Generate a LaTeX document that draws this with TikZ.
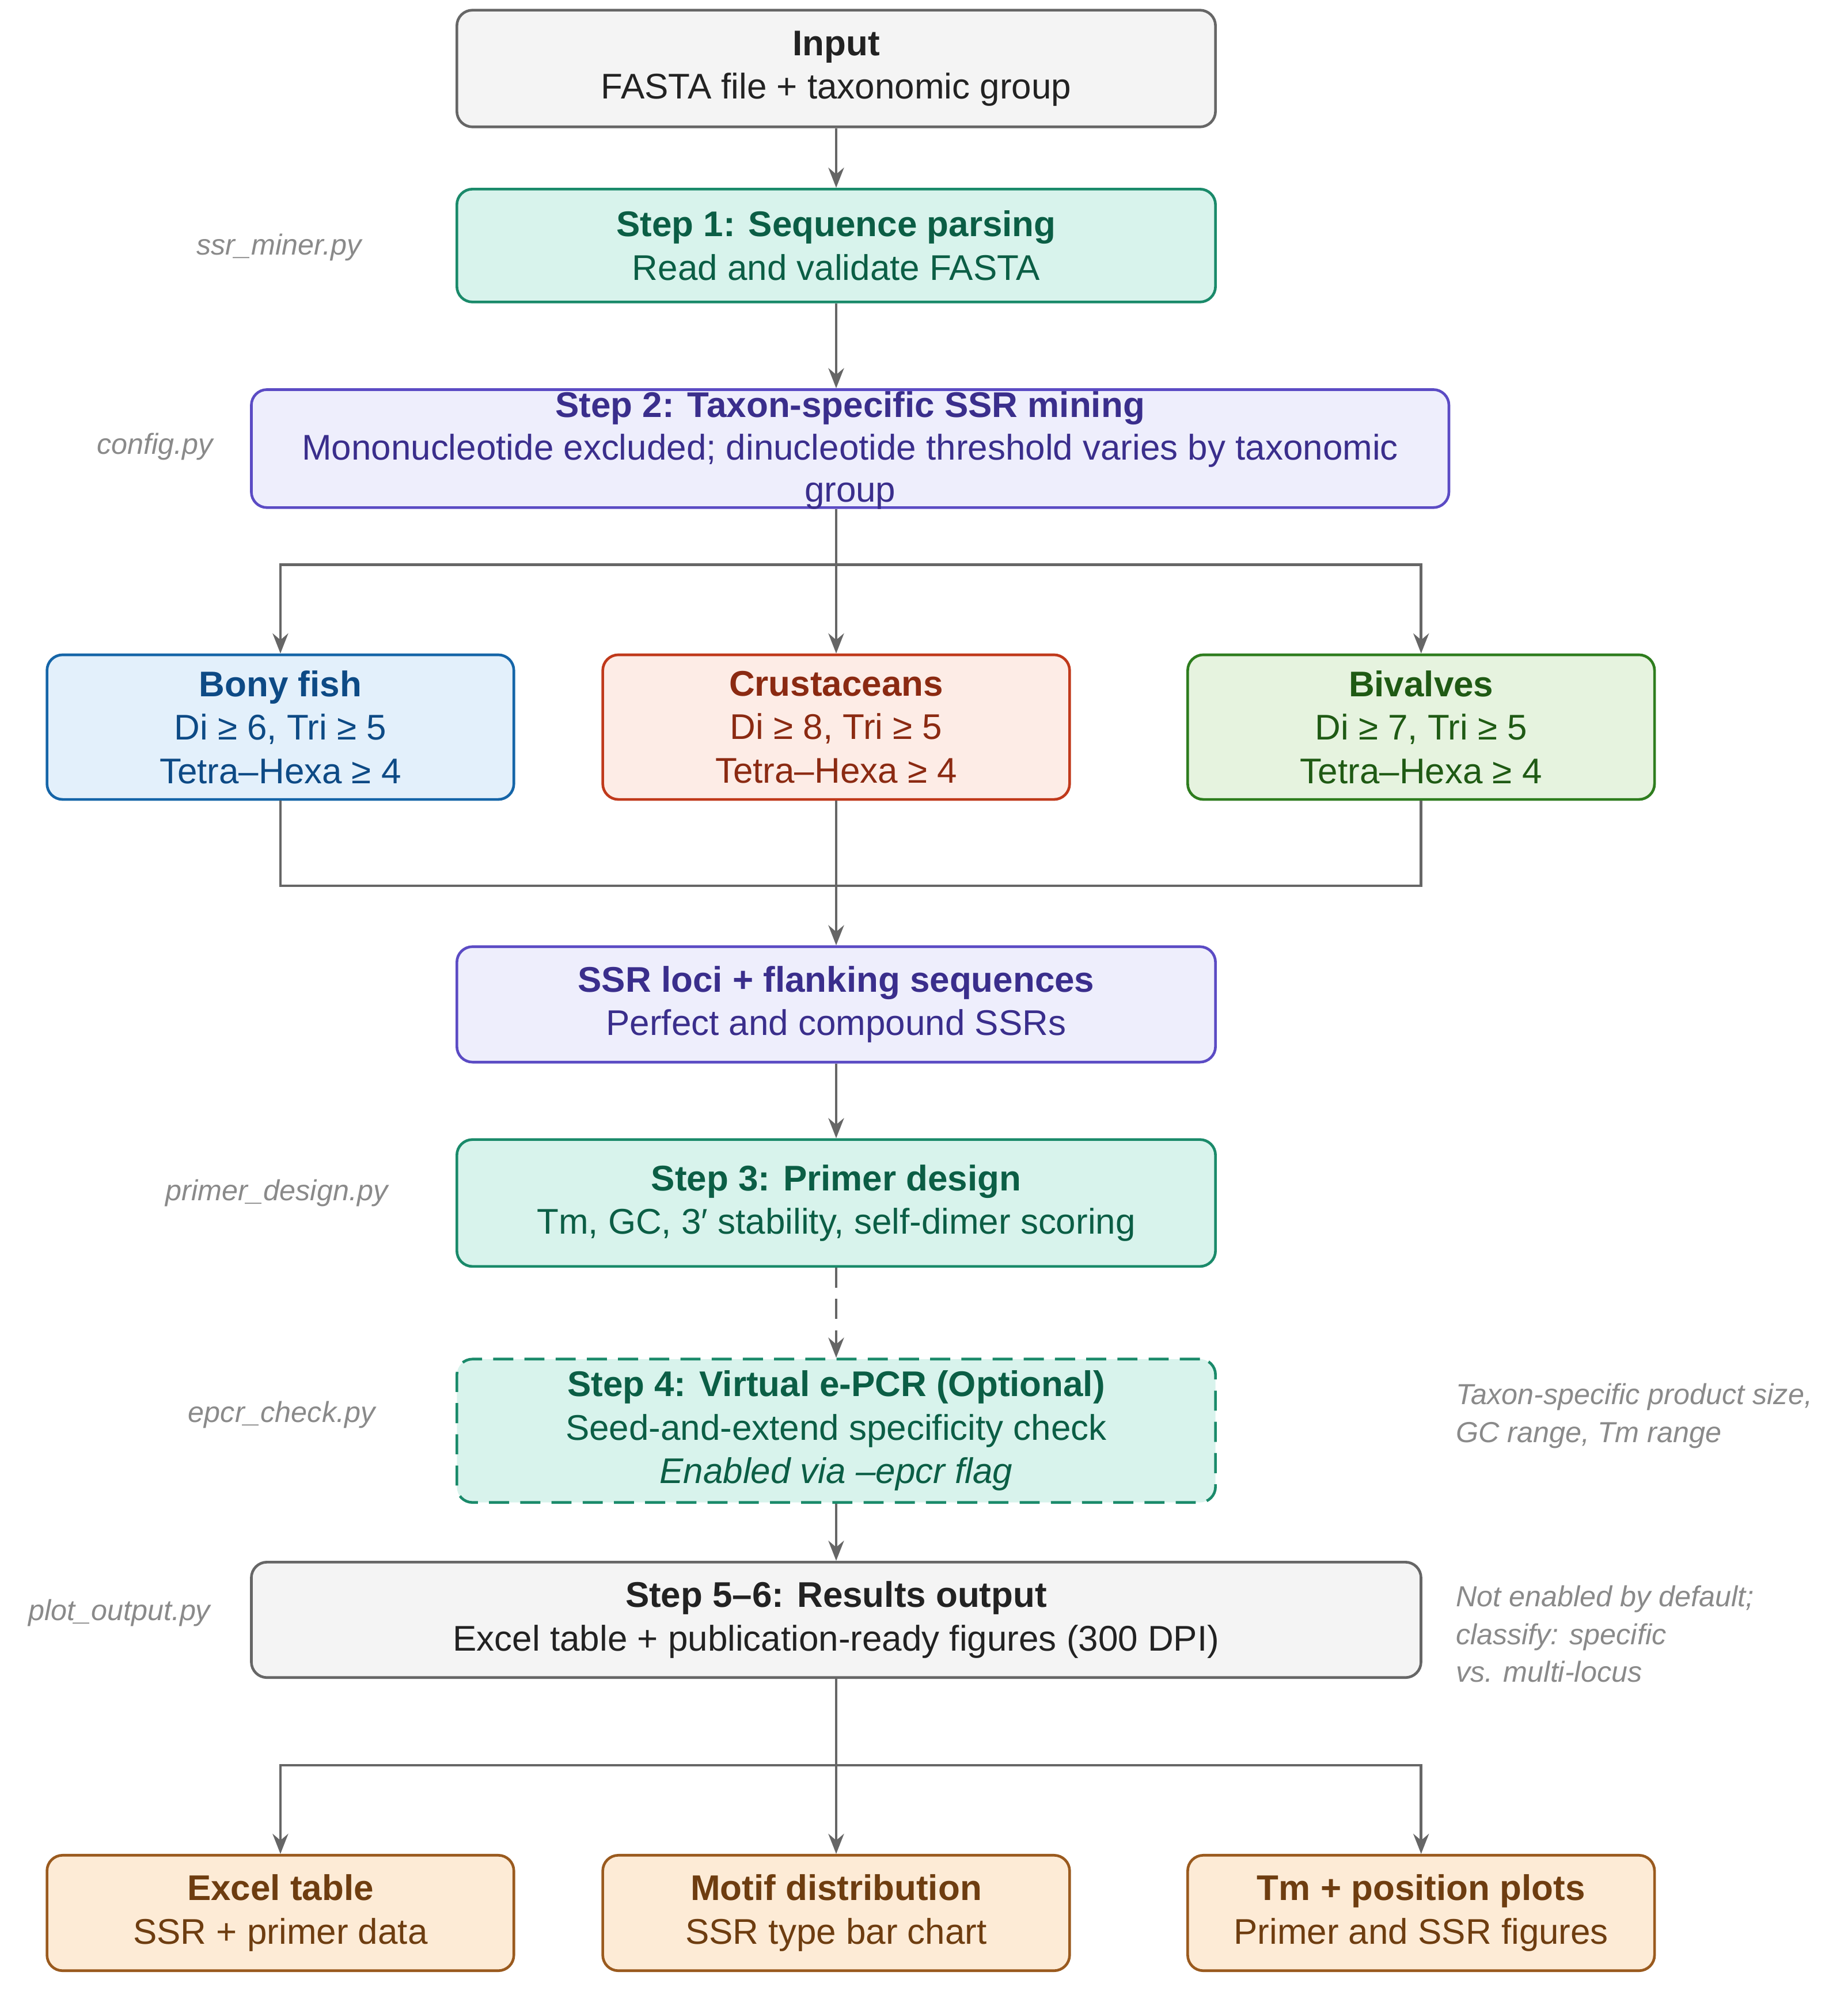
\documentclass[tikz,border=0pt]{standalone}
\usepackage{fontspec}
\setmainfont{Liberation Sans}
\usetikzlibrary{arrows.meta}
\definecolor{tealF}{HTML}{D8F3EC}\definecolor{tealD}{HTML}{1A8A6A}\definecolor{tealT}{HTML}{0B5E45}
\definecolor{purF}{HTML}{EEEEFC}\definecolor{purD}{HTML}{5B4BC4}\definecolor{purT}{HTML}{3A2E8C}
\definecolor{bluF}{HTML}{E3F0FB}\definecolor{bluD}{HTML}{1565A8}\definecolor{bluT}{HTML}{0D4A85}
\definecolor{redF}{HTML}{FDECE6}\definecolor{redD}{HTML}{C0391B}\definecolor{redT}{HTML}{8B2A12}
\definecolor{grnF}{HTML}{E6F3DF}\definecolor{grnD}{HTML}{2E7D1E}\definecolor{grnT}{HTML}{1F5A14}
\definecolor{orgF}{HTML}{FDEBD6}\definecolor{orgD}{HTML}{9A5A1E}\definecolor{orgT}{HTML}{6E3D10}
\definecolor{gryF}{HTML}{F4F4F4}\definecolor{gryD}{HTML}{666666}\definecolor{gryT}{HTML}{222222}
\definecolor{note}{HTML}{8A8A8A}
\begin{document}
\begin{tikzpicture}[x=0.02cm,y=-0.02cm,
  box/.style={rectangle,rounded corners=7pt,line width=1.2pt,align=center,font=\fontsize{16}{19.5}\selectfont,inner sep=0pt},
  teal/.style={box,fill=tealF,draw=tealD,text=tealT},
  pur/.style={box,fill=purF,draw=purD,text=purT},
  blu/.style={box,fill=bluF,draw=bluD,text=bluT},
  red/.style={box,fill=redF,draw=redD,text=redT},
  grn/.style={box,fill=grnF,draw=grnD,text=grnT},
  org/.style={box,fill=orgF,draw=orgD,text=orgT},
  gry/.style={box,fill=gryF,draw=gryD,text=gryT},
  wide/.style={minimum width=11.96cm},
  small/.style={minimum width=7.36cm},
  arr/.style={-{Stealth[length=9pt,width=7pt]},draw=gryD,line width=1.2pt},
  ln/.style={draw=gryD,line width=1.2pt},
  side/.style={font=\fontsize{13}{17}\selectfont\itshape,text=note}]
\useasboundingbox (0,0) rectangle (1456,1569);
\node[gry,wide,minimum height=1.84cm] (in) at (659,54) {\textbf{Input}\\FASTA file + taxonomic group};
\node[teal,wide,minimum height=1.78cm] (s1) at (659,193.5) {\textbf{Step 1: Sequence parsing}\\Read and validate FASTA};
\node[pur,minimum width=18.88cm,minimum height=1.86cm] (s2) at (670,353.5) {};
\node[align=center,text=purT,font=\fontsize{16}{33}\selectfont] (s2t) at (670,355) {\textbf{Step 2: Taxon-specific SSR mining}\\[-14pt]Mononucleotide excluded; dinucleotide threshold varies by taxonomic\\[-14pt]group};
\node[blu,small,minimum height=2.28cm] (bf) at (221,573) {\textbf{Bony fish}\\Di ≥ 6, Tri ≥ 5\\Tetra–Hexa ≥ 4};
\node[red,small,minimum height=2.28cm] (cr) at (659,573) {\textbf{Crustaceans}\\Di ≥ 8, Tri ≥ 5\\Tetra–Hexa ≥ 4};
\node[grn,small,minimum height=2.28cm] (bv) at (1120,573) {\textbf{Bivalves}\\Di ≥ 7, Tri ≥ 5\\Tetra–Hexa ≥ 4};
\node[pur,wide,minimum height=1.82cm] (loc) at (659,791.5) {\textbf{SSR loci + flanking sequences}\\Perfect and compound SSRs};
\node[teal,wide,minimum height=2.0cm] (s3) at (659,948) {\textbf{Step 3: Primer design}\\Tm, GC, 3′ stability, self-dimer scoring};
\node[teal,wide,minimum height=2.26cm,dashed,dash pattern=on 9pt off 5pt] (s4) at (659,1127.5) {\textbf{Step 4: Virtual e-PCR (Optional)}\\Seed-and-extend specificity check\\\textit{Enabled via --epcr flag}};
\node[gry,minimum width=18.44cm,minimum height=1.82cm] (s5) at (659,1276.5) {\textbf{Step 5–6: Results output}\\Excel table + publication-ready figures (300 DPI)};
\node[org,small,minimum height=1.82cm] (o1) at (221,1507.5) {\textbf{Excel table}\\SSR + primer data};
\node[org,small,minimum height=1.82cm] (o2) at (659,1507.5) {\textbf{Motif distribution}\\SSR type bar chart};
\node[org,small,minimum height=1.82cm] (o3) at (1120,1507.5) {\textbf{Tm + position plots}\\Primer and SSR figures};
\node[side] (l1) at (220,195) {ssr\_miner.py};
\node[side] (l2) at (122,352) {config.py};
\node[side] (l3) at (218,940) {primer\_design.py};
\node[side] (l4) at (222,1115) {epcr\_check.py};
\node[side] (l5) at (94,1271) {plot\_output.py};
\node[side,anchor=north west,align=left,inner sep=0pt] (n1) at (1147,1090) {Taxon-specific product size,\\GC range, Tm range};
\node[side,anchor=north west,align=left,inner sep=0pt] (n2) at (1147,1249) {Not enabled by default;\\classify: specific\\vs. multi-locus};
\draw[arr] (in) -- (s1);
\draw[arr] (s1) -- (s1 |- s2.north);
\coordinate (j1) at (659,445);
\draw[ln] (s2.south -| j1) -- (j1);
\draw[arr] (j1) -| (bf.north);
\draw[arr] (j1) -- (cr.north);
\draw[arr] (j1) -| (bv.north);
\coordinate (j2) at (659,698);
\draw[ln] (bf.south) |- (j2);
\draw[ln] (bv.south) |- (j2);
\draw[ln] (cr.south) -- (j2);
\draw[arr] (j2) -- (loc.north);
\draw[arr] (loc) -- (s3);
\draw[arr,dashed,dash pattern=on 9pt off 5pt] (s3) -- (s4);
\draw[arr] (s4) -- (s5);
\coordinate (j3) at (659,1391);
\draw[ln] (s5.south) -- (j3);
\draw[arr] (j3) -| (o1.north);
\draw[arr] (j3) -- (o2.north);
\draw[arr] (j3) -| (o3.north);
\end{tikzpicture}
\end{document}
